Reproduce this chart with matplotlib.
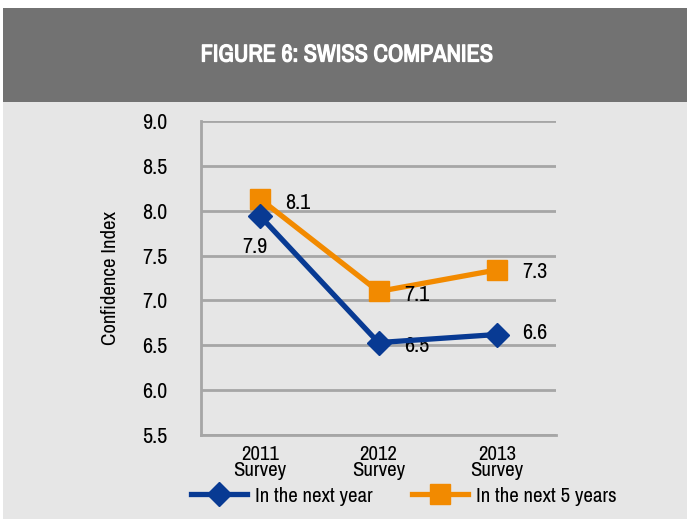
import matplotlib
matplotlib.use("Agg")
import matplotlib.pyplot as plt
import matplotlib.patheffects as pe
from matplotlib import font_manager
from matplotlib.patches import Rectangle
from matplotlib.lines import Line2D

# pick a narrow family if one is installed
names = sorted({f.name for f in font_manager.fontManager.ttflist})
narrow = [n for n in names if "Narrow" in n or "Condensed" in n]
plt.rcParams['font.family'] = narrow[:1] + ['DejaVu Sans']

categories = ["2011\nSurvey", "2012\nSurvey", "2013\nSurvey"]
next_year = [7.94, 6.53, 6.62]
next_5_years = [8.13, 7.10, 7.34]
next_year_labels = ["7.9", "6.5", "6.6"]
next_5_labels = ["8.1", "7.1", "7.3"]
y_ticks = [5.5, 6.0, 6.5, 7.0, 7.5, 8.0, 8.5, 9.0]

BLUE = "#083a93"
ORANGE = "#f28a00"
GRID = "#a6a6a6"

W, H = 687, 519
fig = plt.figure(figsize=(W / 100, H / 100), dpi=100, facecolor="white")

# background panels
fig.patches.append(Rectangle((3 / W, 0), 1, 1 - 102 / H, transform=fig.transFigure,
                             facecolor="#e6e6e6", edgecolor="none", zorder=-5))
fig.patches.append(Rectangle((3 / W, 1 - 102 / H), 1, 94 / H, transform=fig.transFigure,
                             facecolor="#727272", edgecolor="none", zorder=-5))
fig.text(347 / W, 1 - 55 / H, "FIGURE 6: SWISS COMPANIES", color="white", fontsize=17.5,
         fontweight="bold", ha="center", va="center",
         path_effects=[pe.withStroke(linewidth=0.9, foreground="white")])

ax = fig.add_axes([201 / W, 1 - 435 / H, 355 / W, 314 / H])
ax.set_zorder(2)
ax.set_facecolor("none")
x = list(range(len(categories)))

ax.plot(x, next_5_years, color=ORANGE, linewidth=3.8, marker="s", markersize=14,
        zorder=3, label="In the next 5 years")
ax.plot(x, next_year, color=BLUE, linewidth=3.8, marker="D", markersize=12,
        zorder=4, label="In the next year")

# value labels
offsets_5 = [(38, -4), (38, -4), (38, -2)]
offsets_1 = [(-5, -31), (38, -3), (38, 2)]
for i in x:
    ax.annotate(next_5_labels[i], (x[i], next_5_years[i]), xytext=offsets_5[i],
                textcoords="offset pixels", ha="center", va="center", fontsize=16)
    ax.annotate(next_year_labels[i], (x[i], next_year[i]), xytext=offsets_1[i],
                textcoords="offset pixels", ha="center", va="center", fontsize=16)

ax.set_xlim(-0.5, 2.5)
ax.set_ylim(5.5, 9.0)
ax.set_yticks(y_ticks)
ax.set_yticklabels([f"{v:.1f}" for v in y_ticks], fontsize=16)
ax.set_xticks(x)
ax.set_xticklabels(categories, fontsize=15, linespacing=0.8)
ax.tick_params(axis="both", length=0, pad=7)
ax.tick_params(axis="y", pad=24)
ax.set_ylabel("Confidence Index", fontsize=15, labelpad=16)

ax.grid(axis="y", color=GRID, linewidth=2)
ax.set_axisbelow(True)
for side in ["top", "right"]:
    ax.spines[side].set_visible(False)
for side in ["left", "bottom"]:
    ax.spines[side].set_color(GRID)
    ax.spines[side].set_linewidth(2)

handles = [
    Line2D([], [], color=BLUE, linewidth=3.8, marker="D", markersize=12),
    Line2D([], [], color=ORANGE, linewidth=3.8, marker="s", markersize=14),
]
fig.legend(handles, ["In the next year", "In the next 5 years"], loc="center",
           bbox_to_anchor=(404 / W, 1 - 496 / H), ncol=2, frameon=False, fontsize=15,
           handlelength=2.65, handletextpad=0.4, columnspacing=1.9)

fig.savefig("out.png", dpi=100, facecolor=fig.get_facecolor())
